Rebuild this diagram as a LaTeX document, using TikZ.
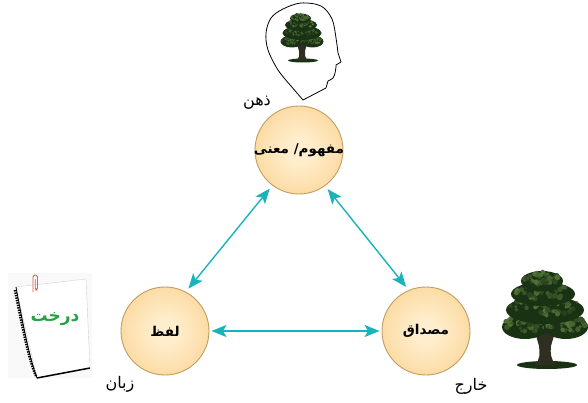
\documentclass[tikz,border=0pt]{standalone}
\usepackage{fontspec}
\newfontfamily\arabicfont[Script=Arabic]{DejaVu Sans}
\TeXXeTstate=1
\usetikzlibrary{arrows.meta}
\definecolor{arrowcyan}{RGB}{24,180,186}
\definecolor{ballin}{RGB}{255,238,206}
\definecolor{ballout}{RGB}{248,196,112}
\definecolor{ballborder}{RGB}{196,156,96}
\definecolor{treedark}{RGB}{26,50,20}
\definecolor{treemid}{RGB}{62,100,40}
\definecolor{treelight}{RGB}{120,155,80}
\definecolor{trunkcol}{RGB}{48,46,32}
\definecolor{clipred}{RGB}{215,95,80}
\definecolor{wordgreen}{RGB}{40,160,70}
\pgfdeclareradialshading{ball}{\pgfpoint{0bp}{0bp}}{color(0bp)=(ballin); color(6bp)=(ballin); color(50bp)=(ballout); color(75bp)=(ballout)}
\newcommand\foliage[4]{% cx, cy, rx, ry
  \fill[treedark] (#1,#2) ellipse [x radius=#3, y radius=#4];
  \foreach \k in {1,...,45}{
    \pgfmathsetmacro\fa{rnd*360}
    \pgfmathsetmacro\fr{sqrt(rnd)*0.9}
    \pgfmathsetmacro\fm{int(15+rnd*50)}
    \pgfmathsetmacro\fs{1.4+rnd*1.6}
    \fill[treelight!\fm!treedark] ({#1+#3*\fr*cos(\fa)},{#2-#4*0.25+#4*\fr*sin(\fa)*0.75}) circle [radius=\fs];
  }
}
\tikzset{
  concept/.style={circle, draw=ballborder, line width=0.9pt, shade, shading=ball,
    minimum size=88pt, inner sep=0pt},
  ctext/.style={font=\arabicfont\bfseries\fontsize{13.5}{16}\selectfont, inner sep=0pt},
  lbl/.style={font=\arabicfont\fontsize{16}{18}\selectfont, inner sep=0pt},
  link/.style={arrowcyan, line width=1.4pt, <->,
    >={Stealth[length=15pt,width=12pt,inset=3.5pt]}, shorten <=4pt, shorten >=4pt},
  bonsai/.pic={
    \fill[treedark] (2,-3) ellipse [x radius=30, y radius=4];
    \fill[trunkcol] (-10,-3) .. controls (-5,-8) and (-5,-15) .. (-6,-22) -- (-10,-36)
      -- (10,-36) -- (6,-22) .. controls (5,-15) and (6,-8) .. (11,-3) -- cycle;
    \foliage{-20}{-41}{23}{12}
    \foliage{21}{-41}{22}{12}
    \foliage{0}{-58}{39}{14}
    \foliage{-2}{-74}{32}{12}
    \foliage{-3}{-87}{21}{10}
  }
}
\begin{document}
\begin{tikzpicture}[x=1pt,y=-1pt]
\pgfmathsetseed{17}
\useasboundingbox (0,0) rectangle (588,403);

% head with a tree
\draw[line width=0.8pt, fill=white] (303,100) -- plot[smooth, tension=0.55] coordinates
  {(291,86) (278,70) (268,50) (266,33) (271,18) (283,9) (301,3) (321,6) (332,19) (336,38) (338,53)}
  -- (341,62) -- (336,65) -- plot[smooth] coordinates {(336,67) (335,73) (333,78) (328,81)}
  -- (326,88) -- cycle;
\pic[scale=0.5] at (302,62) {bonsai};

% big tree
\pic at (545,368) {bonsai};

% notebook
\fill[gray!5] (8,273) rectangle (92,378);
\filldraw[fill=white, draw=gray!35, line width=0.4pt] (16,287) -- (86,279) -- (90,368) -- (37,378) -- cycle;
\draw[black, line width=0.8pt] (16,287) .. controls (24,330) and (30,360) .. (37,378);
\draw[black, line width=2.6pt, dash pattern=on 1.4pt off 1.1pt] (15,290) .. controls (23,330) and (29,360) .. (36,376);
\draw[black, line width=1.5pt] (37,378) -- (90,368);
\draw[clipred, line width=0.8pt, rounded corners=1.8pt] (33,292) -- (33,275) -- (37.5,275) -- (37.5,290) -- (35.2,290) -- (35.2,279);
\node[font=\arabicfont\bfseries\fontsize{17}{19}\selectfont, text=wordgreen, inner sep=0pt] (word) at (55,319) {\beginR درخت\endR};

% concepts
\node[concept] (top) at (299,150) {};
\node[concept] (left) at (165,331) {};
\node[concept] (right) at (426,331) {};
\node[ctext] (toptext) at (top.center) {\beginR مفهوم/ معنی\endR};
\node[ctext] (lefttext) at (left.center) {\beginR لفظ\endR};
\node[ctext] (righttext) at (right.center) {\beginR مصداق\endR};

% labels
\node[lbl] (mind) at (257,103) {\beginR ذهن\endR};
\node[lbl] (lang) at (120,384) {\beginR زبان\endR};
\node[lbl] (ext) at (471,386) {\beginR خارج\endR};

% links
\draw[link] (top.233) -- (left.62);
\draw[link] (top.306) -- (right.113);
\draw[link, shorten <=2pt, shorten >=2pt] (left.east) -- (right.west);
\end{tikzpicture}
\end{document}
